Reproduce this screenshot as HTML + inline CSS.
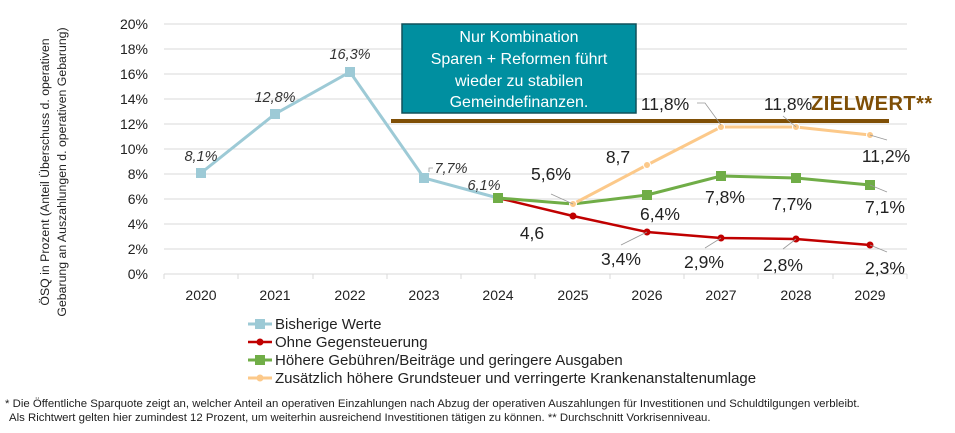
<!DOCTYPE html><html><head><meta charset="utf-8"><style>body{margin:0;background:#fff}svg{display:block}text{font-family:"Liberation Sans",sans-serif}</style></head><body>
<svg width="955" height="433" viewBox="0 0 955 433">
<g stroke="#d9d9d9" stroke-width="1">
<line x1="164" x2="907" y1="24" y2="24"/><line x1="164" x2="907" y1="49" y2="49"/><line x1="164" x2="907" y1="74" y2="74"/><line x1="164" x2="907" y1="99" y2="99"/><line x1="164" x2="907" y1="124" y2="124"/><line x1="164" x2="907" y1="149" y2="149"/><line x1="164" x2="907" y1="174" y2="174"/><line x1="164" x2="907" y1="199" y2="199"/><line x1="164" x2="907" y1="224" y2="224"/><line x1="164" x2="907" y1="249" y2="249"/><line x1="164" x2="907" y1="274" y2="274"/>
<line x1="164" x2="164" y1="274" y2="279"/><line x1="238" x2="238" y1="274" y2="279"/><line x1="313" x2="313" y1="274" y2="279"/><line x1="387" x2="387" y1="274" y2="279"/><line x1="461" x2="461" y1="274" y2="279"/><line x1="535" x2="535" y1="274" y2="279"/><line x1="610" x2="610" y1="274" y2="279"/><line x1="684" x2="684" y1="274" y2="279"/><line x1="758" x2="758" y1="274" y2="279"/><line x1="833" x2="833" y1="274" y2="279"/><line x1="907" x2="907" y1="274" y2="279"/>
</g>
<g font-size="14" fill="#222" text-anchor="end">
<text x="148" y="29">20%</text><text x="148" y="54">18%</text><text x="148" y="79">16%</text><text x="148" y="104">14%</text><text x="148" y="129">12%</text><text x="148" y="154">10%</text><text x="148" y="179">8%</text><text x="148" y="204">6%</text><text x="148" y="229">4%</text><text x="148" y="254">2%</text><text x="148" y="279">0%</text>
</g>
<g font-size="14" fill="#222" text-anchor="middle">
<text x="201" y="300">2020</text><text x="275" y="300">2021</text><text x="350" y="300">2022</text><text x="424" y="300">2023</text><text x="498" y="300">2024</text><text x="573" y="300">2025</text><text x="647" y="300">2026</text><text x="721" y="300">2027</text><text x="796" y="300">2028</text><text x="870" y="300">2029</text>
</g>
<text transform="translate(49,172) rotate(-90)" font-size="12.3" fill="#222" text-anchor="middle">ÖSQ in Prozent (Anteil Überschuss d. operativen</text>
<text transform="translate(66,172) rotate(-90)" font-size="12.3" fill="#222" text-anchor="middle">Gebarung an Auszahlungen d. operativen Gebarung)</text>
<rect x="402" y="24" width="234" height="89" fill="#008fa0" stroke="#10505a" stroke-width="1.5"/>
<g font-size="16" fill="#fff" text-anchor="middle"><text x="519" y="42">Nur Kombination</text><text x="519" y="64">Sparen + Reformen führt</text><text x="519" y="86">wieder zu stabilen</text><text x="519" y="107">Gemeindefinanzen.</text></g>
<rect x="391" y="119" width="498" height="4" fill="#7f4f06"/>
<text x="811" y="110" font-size="20" font-weight="bold" fill="#7f4f06" letter-spacing="0.5">ZIELWERT**</text>
<polyline points="201,173 275,114 350,72 424,178 498,198" fill="none" stroke="#9dcad6" stroke-width="3"/>
<g fill="#9dcad6"><rect x="196" y="168" width="10" height="10"/><rect x="270" y="109" width="10" height="10"/><rect x="345" y="67" width="10" height="10"/><rect x="419" y="173" width="10" height="10"/></g>
<polyline points="498,198 573,216 647,232 721,238 796,239 870,245" fill="none" stroke="#c00000" stroke-width="2.5"/>
<g fill="#c00000"><circle cx="573" cy="216" r="3.5"/><circle cx="647" cy="232" r="3.5"/><circle cx="721" cy="238" r="3.5"/><circle cx="796" cy="239" r="3.5"/><circle cx="870" cy="245" r="3.5"/></g>
<polyline points="498,198 573,204 647,195 721,176 796,178 870,185" fill="none" stroke="#70ad47" stroke-width="3"/>
<g fill="#70ad47"><rect x="493" y="193" width="10" height="10"/><rect x="642" y="190" width="10" height="10"/><rect x="716" y="171" width="10" height="10"/><rect x="791" y="173" width="10" height="10"/><rect x="865" y="180" width="10" height="10"/></g>
<polyline points="573,204 647,165 721,127 796,127 870,135" fill="none" stroke="#fcc98a" stroke-width="3"/>
<g fill="#fcc98a" stroke="#fff" stroke-width="1"><circle cx="573" cy="204" r="3.5"/><circle cx="647" cy="165" r="3.5"/><circle cx="721" cy="127" r="3.5"/><circle cx="796" cy="127" r="3.5"/><circle cx="870" cy="135" r="3.5"/></g>
<g stroke="#999" stroke-width="0.8" fill="none"><polyline points="551,194 573,204"/><polyline points="697,103 705,103 721,125"/><polyline points="783,116 796,127"/><polyline points="870,135 887,140"/><polyline points="870,185 887,192"/><polyline points="870,245 887,252"/><polyline points="621,245 647,232"/><polyline points="705,248 721,238"/><polyline points="783,249 796,239"/><polyline points="429,172 429,168 433,168"/></g>
<g font-size="14.5" font-style="italic" fill="#333" text-anchor="middle"><text x="201" y="161">8,1%</text><text x="275" y="102">12,8%</text><text x="350" y="59">16,3%</text><text x="451" y="173">7,7%</text><text x="484" y="190">6,1%</text></g>
<g font-size="17.5" fill="#222" text-anchor="middle"><text x="551" y="180">5,6%</text><text x="618" y="163">8,7</text><text x="532" y="239">4,6</text><text x="665" y="110">11,8%</text><text x="788" y="110">11,8%</text><text x="886" y="162">11,2%</text><text x="660" y="220">6,4%</text><text x="725" y="203">7,8%</text><text x="792" y="210">7,7%</text><text x="885" y="213">7,1%</text><text x="621" y="265">3,4%</text><text x="704" y="268">2,9%</text><text x="783" y="271">2,8%</text><text x="885" y="274">2,3%</text></g>
<g font-size="15" fill="#222">
<line x1="248" x2="272" y1="324" y2="324" stroke="#9dcad6" stroke-width="3"/><rect x="255" y="319" width="10" height="10" fill="#9dcad6"/><text x="275" y="329">Bisherige Werte</text>
<line x1="248" x2="272" y1="342" y2="342" stroke="#c00000" stroke-width="2.5"/><circle cx="260" cy="342" r="3.5" fill="#c00000"/><text x="275" y="347">Ohne Gegensteuerung</text>
<line x1="248" x2="272" y1="360" y2="360" stroke="#70ad47" stroke-width="3"/><rect x="255" y="355" width="10" height="10" fill="#70ad47"/><text x="275" y="365">Höhere Gebühren/Beiträge und geringere Ausgaben</text>
<line x1="248" x2="272" y1="378" y2="378" stroke="#fcc98a" stroke-width="3"/><circle cx="260" cy="378" r="3.5" fill="#fcc98a"/><text x="275" y="383">Zusätzlich höhere Grundsteuer und verringerte Krankenanstaltenumlage</text>
</g>
<g font-size="11.4" fill="#222"><text x="5" y="407">* Die Öffentliche Sparquote zeigt an, welcher Anteil an operativen Einzahlungen nach Abzug der operativen Auszahlungen für Investitionen und Schuldtilgungen verbleibt.</text><text x="9" y="421">Als Richtwert gelten hier zumindest 12 Prozent, um weiterhin ausreichend Investitionen tätigen zu können. ** Durchschnitt Vorkrisenniveau.</text></g>
</svg></body></html>
